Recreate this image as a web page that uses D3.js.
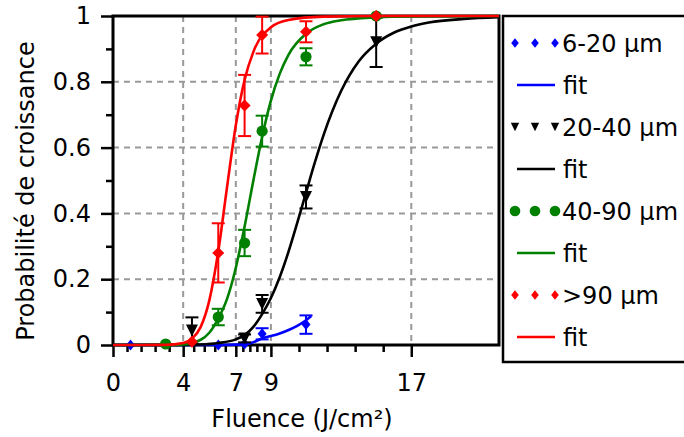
<!DOCTYPE html>
<html><head><meta charset="utf-8">
<script src="https://cdn.jsdelivr.net/npm/d3@7"></script>
<style>
body{margin:0;background:#fff}
svg{display:block}
text{font-family:"DejaVu Sans",Verdana,sans-serif;fill:#000}
</style>
</head><body>
<svg id="chart" width="684" height="437"></svg>
<script>
// ---- data ----
const xMajorTicks = [0, 4, 7, 9, 17];
const xMinorTicks = [0.8, 1.6, 2.4, 3.2, 4.6, 5.2, 5.8, 6.4, 7.4, 7.8, 8.2, 8.6, 10.6, 12.2, 13.8, 15.4];
const yMajorTicks = [0, 0.2, 0.4, 0.6, 0.8, 1];
const yMinorTicks = [0.1, 0.3, 0.5, 0.7, 0.9];
const yTickLabels = ["0", "0.2", "0.4", "0.6", "0.8", "1"];
const xTitle = "Fluence (J/cm²)";
const yTitle = "Probabilité de croissance";

const seriesNames = ["6-20 µm", "20-40 µm", "40-90 µm", ">90 µm"];
const seriesColors = ["#0000ff", "#000000", "#008000", "#ff0000"];
const seriesShapes = ["smallDiamond", "triangleDown", "circle", "diamond"];

// measured points: fluence, probability, error
const blueX = [1, 6, 7.5, 8.5, 11];
const blueY = [0, 0, 0.003, 0.034, 0.062];
const blueErr = [0, 0, 0, 0.017, 0.028];

const blackX = [4.5, 7.5, 8.5, 11, 15];
const blackY = [0.044, 0.02, 0.125, 0.45, 0.92];
const blackErr = [0.04, 0.012, 0.027, 0.035, 0.075];

const greenX = [3, 6, 7.5, 8.5, 11, 15];
const greenY = [0.003, 0.085, 0.31, 0.65, 0.876, 1.0];
const greenErr = [0, 0.025, 0.04, 0.047, 0.026, 0];

const redX = [4.5, 6, 7.5, 8.5, 11, 15];
const redY = [0.01, 0.28, 0.728, 0.942, 0.952, 1.0];
const redErr = [0, 0.09, 0.093, 0.056, 0.032, 0];

// fit curves
const blueFitX = [0, 6, 7, 7.8, 8.5, 9.5, 10.5, 11, 11.3];
const blueFitY = [0, 0, 0.001, 0.005, 0.02, 0.035, 0.058, 0.075, 0.088];

const blackFitX = [0, 4, 5, 6, 7, 7.5, 8, 8.5, 9, 9.5, 10, 10.5, 11, 11.5, 12, 13, 14, 15, 16, 17, 18, 20, 22];
const blackFitY = [0, 0.0003, 0.0015, 0.006, 0.017, 0.03, 0.055, 0.094, 0.143, 0.206, 0.283, 0.371, 0.463, 0.554, 0.638, 0.772, 0.862, 0.916, 0.949, 0.968, 0.98, 0.991, 0.996];

const greenFitX = [0, 3, 4, 5, 5.5, 6, 6.5, 7, 7.5, 8, 8.5, 9, 9.5, 10, 11, 12, 13, 15, 17, 22];
const greenFitY = [0, 0.0003, 0.002, 0.016, 0.038, 0.08, 0.14, 0.235, 0.36, 0.5, 0.633, 0.743, 0.824, 0.882, 0.946, 0.975, 0.987, 0.996, 0.999, 1];

const redFitX = [0, 3, 4, 4.5, 5, 5.5, 6, 6.5, 7, 7.5, 8, 9, 10, 12, 15, 22];
const redFitY = [0, 0.0003, 0.006, 0.019, 0.055, 0.138, 0.285, 0.48, 0.668, 0.806, 0.891, 0.966, 0.988, 0.998, 1, 1];

// ---- layout ----
const FS = 24;
const svg = d3.select("#chart");
const L = 113, R = 499, T = 16, B = 345;
const x = d3.scaleLinear().domain([0, 22]).range([L, R]);
const y = d3.scaleLinear().domain([0, 1]).range([B, T]);

const series = [
  {name: seriesNames[0], color: seriesColors[0], shape: seriesShapes[0], xs: blueX, ys: blueY, es: blueErr, fx: blueFitX, fy: blueFitY},
  {name: seriesNames[1], color: seriesColors[1], shape: seriesShapes[1], xs: blackX, ys: blackY, es: blackErr, fx: blackFitX, fy: blackFitY},
  {name: seriesNames[2], color: seriesColors[2], shape: seriesShapes[2], xs: greenX, ys: greenY, es: greenErr, fx: greenFitX, fy: greenFitY},
  {name: seriesNames[3], color: seriesColors[3], shape: seriesShapes[3], xs: redX, ys: redY, es: redErr, fx: redFitX, fy: redFitY}
];

// grid
const grid = svg.append("g").attr("stroke", "#999").attr("stroke-width", 2).attr("stroke-dasharray", "6,5");
grid.selectAll("line.vx").data(xMajorTicks.filter(d => d > 0)).join("line")
  .attr("x1", d => x(d)).attr("x2", d => x(d)).attr("y1", y(1)).attr("y2", y(0));
grid.selectAll("line.hy").data(yMajorTicks.filter(d => d > 0 && d < 1)).join("line")
  .attr("x1", x(0)).attr("x2", x(22)).attr("y1", d => y(d)).attr("y2", d => y(d));

// axes
function styleAxis(g) {
  g.select(".domain").remove();
  g.selectAll(".tick line").attr("stroke", "#000").attr("stroke-width", 2.5);
  g.selectAll(".tick text").attr("font-size", FS).attr("font-family", "DejaVu Sans, Verdana, sans-serif");
}
svg.append("g").attr("transform", `translate(0,${B})`)
  .call(d3.axisBottom(x).tickValues(xMajorTicks).tickSize(12).tickPadding(17).tickFormat(d3.format("d")))
  .call(styleAxis);
svg.append("g").attr("transform", `translate(0,${B})`)
  .call(d3.axisBottom(x).tickValues(xMinorTicks).tickSize(7).tickFormat(""))
  .call(styleAxis);
svg.append("g").attr("transform", `translate(${L},0)`)
  .call(d3.axisLeft(y).tickValues(yMajorTicks).tickSize(12).tickPadding(10).tickFormat((d, i) => yTickLabels[i]))
  .call(styleAxis);
svg.append("g").attr("transform", `translate(${L},0)`)
  .call(d3.axisLeft(y).tickValues(yMinorTicks).tickSize(7).tickFormat(""))
  .call(styleAxis);

// frame
svg.append("rect").attr("x", L).attr("y", T).attr("width", R - L).attr("height", B - T)
  .attr("fill", "none").attr("stroke", "#000").attr("stroke-width", 3);

// markers
function markerPath(shape, s) {
  if (shape === "diamond") return `M0,${-6*s}L${6*s},0L0,${6*s}L${-6*s},0Z`;
  if (shape === "smallDiamond") return `M0,${-5.5*s}L${4.5*s},0L0,${5.5*s}L${-4.5*s},0Z`;
  if (shape === "triangleDown") return `M${-6*s},${-6*s}L${6*s},${-6*s}L0,${6*s}Z`;
  return null;
}
function drawMarker(g, shape, color, cx, cy, s) {
  if (shape === "circle") {
    g.append("circle").attr("cx", cx).attr("cy", cy).attr("r", 5.6 * s).attr("fill", color);
  } else {
    g.append("path").attr("d", markerPath(shape, s)).attr("transform", `translate(${cx},${cy})`).attr("fill", color);
  }
}

const line = d3.line().x(d => x(d[0])).y(d => y(d[1])).curve(d3.curveMonotoneX);
const plot = svg.append("g");
series.forEach(s => {
  const g = plot.append("g");
  s.xs.forEach((xv, i) => {
    const e = s.es[i];
    if (e > 0) {
      const top = y(s.ys[i] + e), bot = y(s.ys[i] - e), cx = x(xv);
      g.append("line").attr("x1", cx).attr("x2", cx).attr("y1", top).attr("y2", bot).attr("stroke", s.color).attr("stroke-width", 2);
      [top, bot].forEach(yy => g.append("line").attr("x1", cx - 6.5).attr("x2", cx + 6.5).attr("y1", yy).attr("y2", yy).attr("stroke", s.color).attr("stroke-width", 2));
    }
    drawMarker(g, s.shape, s.color, x(xv), y(s.ys[i]), 1);
  });
  g.append("path").datum(s.fx.map((v, i) => [v, s.fy[i]]))
    .attr("d", line).attr("fill", "none").attr("stroke", s.color).attr("stroke-width", 2.6);
});

// axis titles
svg.append("text").attr("x", 302).attr("y", 427).attr("text-anchor", "middle").attr("font-size", FS).text(xTitle);
svg.append("text").attr("transform", "translate(34,191) rotate(-90)").attr("text-anchor", "middle").attr("font-size", FS).text(yTitle);

// legend
const lg = svg.append("g");
lg.append("rect").attr("x", 503).attr("y", 16).attr("width", 200).attr("height", 346)
  .attr("fill", "#fff").attr("stroke", "#000").attr("stroke-width", 2.5);
series.forEach((s, i) => {
  const y1 = 43 + i * 84, y2 = y1 + 42;
  [515, 535, 555].forEach(mx => {
    if (s.shape === "circle") drawMarker(lg, "circle", s.color, mx, y1, 0.95);
    else if (s.shape === "triangleDown") drawMarker(lg, s.shape, s.color, mx, y1, 0.7);
    else drawMarker(lg, "smallDiamond", s.color, mx, y1, 0.85);
  });
  lg.append("text").attr("x", 562).attr("y", y1).attr("dy", "0.36em").attr("font-size", FS).text(s.name);
  lg.append("line").attr("x1", 517).attr("x2", 555).attr("y1", y2).attr("y2", y2).attr("stroke", s.color).attr("stroke-width", 2.5);
  lg.append("text").attr("x", 563).attr("y", y2).attr("dy", "0.36em").attr("font-size", FS).text("fit");
});
</script>
</body></html>
